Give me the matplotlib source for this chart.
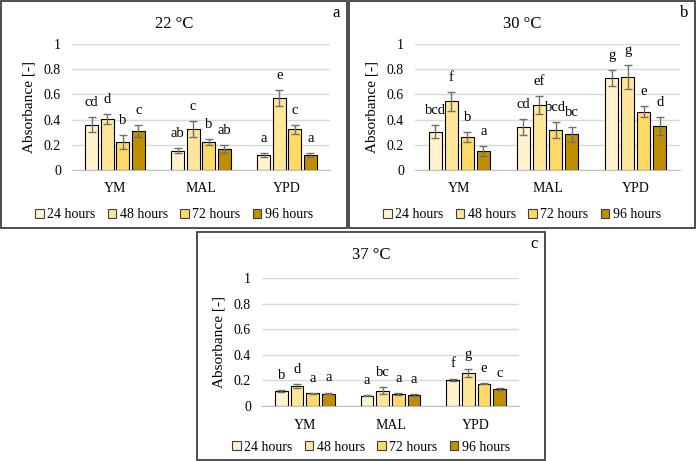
import matplotlib
matplotlib.use("Agg")
import matplotlib.pyplot as plt
import numpy as np
from matplotlib.patches import Rectangle, Patch

plt.rcParams['font.family'] = ['Liberation Serif', 'DejaVu Serif']

media = ['YM', 'MAL', 'YPD']
times = ['24 hours', '48 hours', '72 hours', '96 hours']
colors = ['#FFF2CC', '#FFE699', '#FFD966', '#BF8F00']

# absorbance per temperature: rows = medium, cols = time
abs_22 = [[0.36, 0.405, 0.22, 0.31],
          [0.153, 0.325, 0.22, 0.165],
          [0.119, 0.571, 0.325, 0.119]]
err_22 = [[0.06, 0.04, 0.055, 0.05],
          [0.02, 0.065, 0.023, 0.03],
          [0.015, 0.062, 0.036, 0.018]]
let_22 = [['cd', 'd', 'b', 'c'],
          ['ab', 'c', 'b', 'ab'],
          ['a', 'e', 'c', 'a']]

abs_30 = [[0.304, 0.545, 0.259, 0.151],
          [0.341, 0.516, 0.315, 0.283],
          [0.733, 0.741, 0.463, 0.349]]
err_30 = [[0.05, 0.077, 0.04, 0.043],
          [0.063, 0.069, 0.063, 0.057],
          [0.063, 0.095, 0.042, 0.072]]
let_30 = [['bcd', 'f', 'b', 'a'],
          ['cd', 'ef', 'bcd', 'bc'],
          ['g', 'g', 'e', 'd']]

abs_37 = [[0.117, 0.154, 0.099, 0.097],
          [0.081, 0.12, 0.094, 0.086],
          [0.204, 0.258, 0.174, 0.132]]
err_37 = [[0.008, 0.016, 0.004, 0.007],
          [0.005, 0.025, 0.009, 0.005],
          [0.01, 0.03, 0.005, 0.007]]
let_37 = [['b', 'd', 'a', 'a'],
          ['a', 'bc', 'a', 'a'],
          ['f', 'g', 'e', 'c']]

W, H = 696, 461
fig = plt.figure(figsize=(W / 100, H / 100), dpi=100)


def px_box(x0, y0, x1, y1):
    return [x0 / W, 1 - y1 / H, (x1 - x0) / W, (y1 - y0) / H]


def panel(frame, axbox, title, tag, vals, errs, lets, leg_y):
    fx0, fy0, fx1, fy1 = frame
    fig.patches.append(Rectangle((fx0 / W, 1 - fy1 / H), (fx1 - fx0) / W, (fy1 - fy0) / H,
                                 transform=fig.transFigure, fill=False,
                                 edgecolor='#404040', linewidth=1.3))
    ax = fig.add_axes(px_box(*axbox))
    x = np.arange(len(media))
    pitch, bw = 0.182, 0.148
    vals = np.array(vals)
    errs = np.array(errs)
    for j in range(len(times)):
        xs = x + (j - 1.5) * pitch
        ax.bar(xs, vals[:, j], bw, color=colors[j], edgecolor='black', linewidth=0.8,
               yerr=errs[:, j], ecolor='#707070',
               error_kw=dict(capsize=3, elinewidth=1, capthick=1), zorder=3)
        for i in range(len(media)):
            ax.text(xs[i], vals[i, j] + errs[i, j] + 0.115, lets[i][j],
                    ha='center', va='center', fontsize=10.5)
    ax.set_ylim(0, 1)
    ax.set_xlim(-0.5, 2.5)
    ax.set_yticks(np.arange(0, 1.01, 0.2))
    ax.set_yticklabels(['0', '0.2', '0.4', '0.6', '0.8', '1'])
    ax.set_xticks(x)
    ax.set_xticklabels(media, fontsize=10.5)
    ax.tick_params(axis='both', length=0, labelsize=10)
    ax.tick_params(axis='x', pad=9)
    ax.tick_params(axis='y', pad=8)
    ax.grid(axis='y', color='#D9D9D9', linewidth=1, zorder=0)
    for s in ['top', 'right', 'left']:
        ax.spines[s].set_visible(False)
    ax.spines['bottom'].set_color('#BFBFBF')
    ax.set_ylabel('Absorbance [-]', fontsize=11, labelpad=6)
    ax.set_facecolor('none')
    cx = (fx0 + fx1) / 2
    fig.text(cx / W, 1 - (fy0 + 23) / H, title, ha='center', va='center', fontsize=12)
    fig.text((fx1 - 11) / W, 1 - (fy0 + 12) / H, tag, ha='center', va='center', fontsize=12)
    handles = [Patch(facecolor=c, edgecolor='#404040', linewidth=0.8) for c in colors]
    fig.legend(handles, times, loc='center', bbox_to_anchor=(cx / W, 1 - leg_y / H),
               ncol=4, frameon=False, fontsize=10, handlelength=0.6, handleheight=0.6,
               handletextpad=0.25, columnspacing=0.9)
    return ax


panel((1, 1, 347, 228), (72, 44, 330, 170), '22 °C', 'a', abs_22, err_22, let_22, 215)
panel((349, 1, 695, 228), (415, 44, 680, 170), '30 °C', 'b', abs_30, err_30, let_30, 215)
panel((197, 232, 545, 460), (262, 278, 519, 406), '37 °C', 'c', abs_37, err_37, let_37, 447)

fig.savefig('out.png', dpi=100)
